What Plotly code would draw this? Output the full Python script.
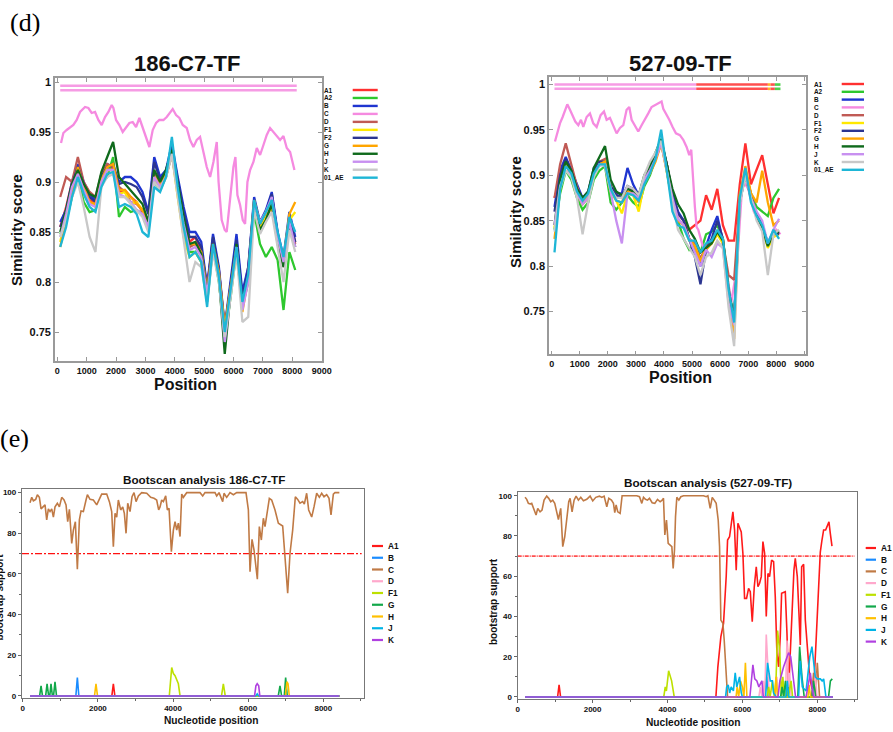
import plotly.graph_objects as go

W, H = 893, 732

# ===================== DATA =====================
sim_types = ["A1", "A2", "B", "C", "D", "F1", "F2", "G", "H", "J", "K", "01_AE"]
sim_colors = ["#ff3030", "#2ec82e", "#1f35d0", "#f58ae0", "#c05a55", "#ffe800",
              "#2b3590", "#ffa500", "#0f6a1c", "#c890f0", "#c8c8c8", "#1eb6d6"]
sim_xticks = [0, 1000, 2000, 3000, 4000, 5000, 6000, 7000, 8000, 9000]
sim_yticks = [0.75, 0.8, 0.85, 0.9, 0.95, 1.0]
sim_yticktext = ["0.75", "0.8", "0.85", "0.9", "0.95", "1"]

pos = [100, 300, 500, 700, 900, 1100, 1300, 1500, 1700, 1900,
       2100, 2300, 2500, 2700, 2900, 3100, 3300, 3500, 3700, 3900,
       4100, 4300, 4500, 4700, 4900, 5100, 5300, 5500, 5700, 5900,
       6100, 6300, 6500, 6700, 6900, 7100, 7300, 7500, 7700, 7900, 8100]

# ---- 186-C7-TF similarity ----
tl_A1 = [0.855,0.875,0.900,0.915,0.895,0.882,0.878,0.908,0.912,0.915,
         0.890,0.892,0.885,0.880,0.870,0.858,0.905,0.895,0.912,0.930,
         0.898,0.865,0.840,0.845,0.832,0.795,0.842,0.812,0.755,0.798,
         0.838,0.785,0.815,0.878,0.858,0.865,0.875,0.842,0.820,0.860,0.838]
tl_A2 = [0.848,0.860,0.885,0.905,0.880,0.870,0.872,0.898,0.905,0.925,
         0.865,0.875,0.870,0.872,0.868,0.855,0.900,0.892,0.905,0.928,
         0.890,0.855,0.830,0.830,0.820,0.780,0.835,0.800,0.745,0.785,
         0.832,0.775,0.800,0.870,0.838,0.825,0.835,0.822,0.772,0.830,0.812]
tl_B = [0.860,0.872,0.900,0.918,0.900,0.888,0.882,0.905,0.918,0.915,
        0.900,0.905,0.905,0.900,0.890,0.870,0.925,0.905,0.912,0.938,
        0.905,0.875,0.850,0.850,0.840,0.795,0.848,0.815,0.755,0.800,
        0.848,0.790,0.815,0.885,0.860,0.872,0.890,0.850,0.825,0.870,0.845]
tl_C_x = [127,207,320,434,547,661,774,944,1058,1171,
          1285,1398,1512,1625,1739,1852,1909,2000,2113,2227,
          2340,2454,2567,2681,2794,2908,3021,3135,3248,3362,
          3475,3612,3725,3839,3929,4043,4156,4270,4406,4520,
          4633,4747,4860,4974,5087,5201,5314,5428,5490,5596,
          5700,5766,5882,5995,6063,6131,6222,6313,6392,6472,
          6563,6676,6790,6903,7017,7130,7244,7357,7471,7584,
          7698,7811,7925,8015,8072]
tl_C = [0.939,0.949,0.952,0.955,0.957,0.962,0.970,0.975,0.974,0.969,
        0.970,0.962,0.957,0.965,0.970,0.977,0.974,0.962,0.957,0.950,
        0.955,0.959,0.960,0.955,0.964,0.955,0.945,0.935,0.952,0.959,
        0.962,0.962,0.965,0.969,0.973,0.967,0.964,0.957,0.954,0.942,
        0.935,0.942,0.945,0.930,0.915,0.905,0.920,0.940,0.900,0.862,
        0.852,0.850,0.887,0.915,0.925,0.887,0.877,0.862,0.858,0.900,
        0.912,0.920,0.934,0.927,0.937,0.947,0.954,0.950,0.945,0.942,
        0.946,0.934,0.930,0.920,0.912]
tl_D = [0.885,0.905,0.900,0.925,0.900,0.890,0.885,0.908,0.918,0.915,
        0.895,0.890,0.880,0.878,0.872,0.858,0.908,0.898,0.908,0.930,
        0.892,0.860,0.835,0.838,0.828,0.792,0.838,0.808,0.752,0.792,
        0.835,0.778,0.808,0.878,0.852,0.862,0.878,0.838,0.815,0.862,0.840]
tl_F1 = [0.840,0.868,0.892,0.910,0.892,0.880,0.875,0.900,0.912,0.912,
         0.888,0.890,0.878,0.880,0.872,0.860,0.905,0.898,0.905,0.928,
         0.885,0.845,0.825,0.830,0.820,0.785,0.832,0.805,0.750,0.790,
         0.830,0.775,0.805,0.875,0.855,0.865,0.875,0.845,0.822,0.862,0.870]
tl_F2 = [0.855,0.870,0.898,0.915,0.898,0.885,0.880,0.905,0.915,0.918,
         0.898,0.900,0.898,0.895,0.885,0.868,0.920,0.902,0.910,0.935,
         0.902,0.870,0.845,0.845,0.835,0.792,0.845,0.812,0.752,0.798,
         0.842,0.785,0.812,0.882,0.858,0.870,0.888,0.848,0.822,0.866,0.840]
tl_G = [0.835,0.862,0.890,0.915,0.895,0.880,0.878,0.902,0.915,0.918,
        0.892,0.892,0.885,0.878,0.872,0.858,0.905,0.898,0.910,0.928,
        0.892,0.860,0.838,0.838,0.830,0.792,0.838,0.810,0.755,0.795,
        0.835,0.770,0.805,0.882,0.858,0.870,0.880,0.845,0.822,0.868,0.880]
tl_H = [0.850,0.872,0.898,0.912,0.898,0.888,0.885,0.910,0.925,0.940,
        0.905,0.898,0.892,0.885,0.878,0.860,0.912,0.900,0.912,0.932,
        0.898,0.865,0.838,0.840,0.828,0.788,0.838,0.805,0.728,0.790,
        0.838,0.778,0.802,0.878,0.852,0.862,0.878,0.840,0.815,0.858,0.835]
tl_J = [0.845,0.868,0.895,0.908,0.892,0.878,0.875,0.900,0.912,0.912,
        0.888,0.885,0.880,0.872,0.868,0.855,0.905,0.895,0.905,0.928,
        0.890,0.858,0.832,0.835,0.825,0.788,0.835,0.805,0.740,0.788,
        0.835,0.772,0.800,0.878,0.860,0.870,0.885,0.845,0.820,0.860,0.835]
tl_K = [0.845,0.862,0.885,0.900,0.875,0.845,0.830,0.895,0.905,0.908,
        0.885,0.885,0.878,0.872,0.865,0.850,0.900,0.892,0.905,0.928,
        0.885,0.845,0.800,0.820,0.815,0.780,0.830,0.800,0.745,0.785,
        0.830,0.760,0.765,0.872,0.848,0.860,0.870,0.835,0.800,0.852,0.830]
tl_AE = [0.835,0.855,0.885,0.905,0.888,0.875,0.870,0.895,0.908,0.910,
         0.875,0.878,0.875,0.868,0.850,0.845,0.895,0.890,0.905,0.945,
         0.895,0.855,0.825,0.830,0.820,0.775,0.838,0.805,0.750,0.790,
         0.835,0.780,0.808,0.882,0.858,0.870,0.882,0.850,0.825,0.865,0.850]
tl_bar_start = [100]
tl_bar_end = [8150]
tl_bar_type = ["C"]
tl_bar_rows = [0.9963, 0.9918]

# ---- 527-09-TF similarity ----
tr_A1 = [0.875,0.895,0.918,0.905,0.885,0.872,0.878,0.902,0.912,0.912,
         0.885,0.878,0.875,0.885,0.882,0.876,0.893,0.902,0.918,0.938,
         0.912,0.880,0.858,0.850,0.840,0.845,0.850,0.878,0.862,0.885,
         0.845,0.828,0.828,0.890,0.935,0.890,0.905,0.922,0.890,0.858,0.875]
tr_A2 = [0.840,0.880,0.905,0.895,0.875,0.862,0.870,0.895,0.905,0.910,
         0.870,0.862,0.870,0.878,0.870,0.865,0.888,0.900,0.918,0.938,
         0.905,0.868,0.850,0.830,0.818,0.825,0.815,0.835,0.838,0.845,
         0.830,0.778,0.740,0.878,0.900,0.880,0.865,0.860,0.855,0.875,0.885]
tr_B = [0.865,0.905,0.920,0.905,0.888,0.875,0.882,0.908,0.915,0.912,
        0.888,0.880,0.880,0.908,0.890,0.878,0.895,0.905,0.918,0.935,
        0.912,0.880,0.860,0.850,0.830,0.820,0.800,0.822,0.840,0.855,
        0.828,0.770,0.745,0.872,0.902,0.878,0.855,0.840,0.822,0.835,0.838]
tr_C_x = [117,200,295,390,473,556,651,746,841,948,
          1043,1126,1245,1363,1482,1601,1743,1862,1957,2075,
          2194,2313,2432,2551,2669,2764,2847,2966,3084,3203,
          3322,3441,3559,3678,3797,3915,3975,4070,4189,4307,
          4426,4568,4687,4806,4901,4972,5043,5102,5162,5221,
          5400,5600,5800,6000,6200,6400,6600,6800,7000,7200,
          7400,7600,7800,8000,8150]
tr_C = [0.937,0.946,0.957,0.964,0.972,0.978,0.972,0.966,0.959,0.955,
        0.961,0.953,0.964,0.968,0.957,0.953,0.966,0.970,0.961,0.963,
        0.955,0.946,0.952,0.955,0.972,0.975,0.961,0.955,0.948,0.955,
        0.961,0.968,0.975,0.977,0.979,0.981,0.973,0.968,0.961,0.953,
        0.946,0.944,0.939,0.931,0.922,0.928,0.887,0.865,0.843,0.840,
        0.820,0.825,0.830,0.840,0.800,0.760,0.800,0.895,0.885,0.860,
        0.850,0.830,0.825,0.840,0.835]
tr_D = [0.875,0.912,0.935,0.910,0.888,0.872,0.880,0.905,0.915,0.918,
        0.888,0.878,0.875,0.885,0.885,0.878,0.895,0.905,0.918,0.935,
        0.908,0.875,0.852,0.845,0.830,0.825,0.808,0.822,0.828,0.838,
        0.826,0.790,0.785,0.872,0.900,0.875,0.855,0.845,0.825,0.838,0.838]
tr_F1 = [0.842,0.890,0.910,0.902,0.882,0.870,0.878,0.902,0.915,0.912,
         0.882,0.872,0.858,0.880,0.878,0.860,0.892,0.905,0.918,0.935,
         0.905,0.872,0.850,0.845,0.828,0.822,0.805,0.820,0.825,0.835,
         0.825,0.770,0.735,0.875,0.905,0.880,0.855,0.842,0.820,0.832,0.835]
tr_F2 = [0.860,0.900,0.918,0.905,0.885,0.875,0.880,0.905,0.915,0.915,
         0.888,0.878,0.876,0.888,0.885,0.878,0.895,0.905,0.920,0.938,
         0.912,0.880,0.858,0.850,0.830,0.810,0.780,0.818,0.830,0.850,
         0.830,0.770,0.732,0.875,0.905,0.878,0.858,0.845,0.825,0.838,0.835]
tr_G = [0.830,0.885,0.912,0.900,0.880,0.868,0.875,0.900,0.912,0.915,
        0.885,0.872,0.870,0.882,0.880,0.870,0.892,0.902,0.915,0.935,
        0.905,0.872,0.850,0.845,0.830,0.822,0.805,0.818,0.825,0.838,
        0.830,0.770,0.720,0.878,0.910,0.880,0.870,0.905,0.870,0.845,0.850]
tr_H = [0.845,0.895,0.915,0.905,0.885,0.875,0.882,0.908,0.920,0.932,
        0.895,0.882,0.878,0.885,0.882,0.878,0.900,0.910,0.925,0.940,
        0.912,0.885,0.868,0.858,0.840,0.830,0.815,0.820,0.825,0.838,
        0.828,0.775,0.740,0.870,0.900,0.875,0.855,0.842,0.822,0.835,0.838]
tr_J = [0.845,0.888,0.905,0.900,0.880,0.868,0.875,0.900,0.912,0.910,
        0.882,0.850,0.825,0.880,0.880,0.875,0.895,0.905,0.918,0.935,
        0.905,0.875,0.852,0.845,0.830,0.815,0.800,0.818,0.810,0.825,
        0.820,0.760,0.735,0.870,0.900,0.875,0.860,0.850,0.825,0.840,0.852]
tr_K = [0.838,0.885,0.905,0.898,0.875,0.835,0.870,0.898,0.910,0.912,
        0.885,0.875,0.875,0.888,0.885,0.878,0.900,0.915,0.925,0.938,
        0.905,0.870,0.840,0.830,0.820,0.810,0.790,0.810,0.815,0.828,
        0.820,0.755,0.712,0.868,0.900,0.875,0.850,0.838,0.790,0.835,0.840]
tr_AE = [0.815,0.885,0.910,0.902,0.882,0.872,0.880,0.902,0.912,0.912,
         0.885,0.872,0.870,0.880,0.878,0.872,0.890,0.902,0.918,0.950,
         0.905,0.860,0.845,0.842,0.828,0.828,0.815,0.825,0.828,0.840,
         0.830,0.775,0.738,0.875,0.908,0.870,0.855,0.845,0.825,0.840,0.830]
tr_bar_start = [100, 5150, 7700, 7800, 7950]
tr_bar_end = [5150, 7700, 7800, 7950, 8150]
tr_bar_type = ["C", "A1", "G", "A1", "A2"]
tr_bar_rows = [0.9997, 0.9950]

# ---- bootscan ----
boot_types = ["A1", "B", "C", "D", "F1", "G", "H", "J", "K"]
boot_colors = ["#ff1a1a", "#1a8cff", "#c07a45", "#ffa8cc", "#bde000",
               "#12a84a", "#ffc000", "#00b4e6", "#b040e0"]
boot_xticks = [0, 2000, 4000, 6000, 8000]
boot_yticks = [0, 20, 40, 60, 80, 100]
boot_threshold = 70

bl_A1_x = [195, 2372, 2412, 2452, 8426]
bl_A1 = [0, 0, 6, 0, 0]
bl_B_x = [195, 1414, 1454, 1494, 8426]
bl_B = [0, 0, 9, 0, 0]
bl_C_x = [195,240,284,346,390,443,488,532,594,638,
          683,727,772,816,860,922,976,1038,1100,1153,
          1197,1242,1304,1348,1401,1454,1508,1552,1614,1685,
          1721,1792,1880,1969,2040,2102,2235,2306,2368,2412,
          2457,2501,2545,2607,2661,2705,2750,2794,2856,2909,
          2962,3016,3078,3166,3300,3406,3494,3565,3618,3654,
          3698,3743,3805,3849,3894,3956,4009,4054,4098,4142,
          4187,4231,4275,4364,4719,4790,4851,5117,5162,5224,
          5322,5357,5428,5517,5606,5694,5942,6005,6049,6102,
          6155,6244,6297,6350,6404,6448,6563,6625,6714,6803,
          6918,6980,7051,7113,7184,7255,7317,7379,7450,7494,
          7556,7610,7690,7752,7823,7894,7956,8018,8089,8151,
          8204,8266,8310,8426]
bl_C = [95,97.7,96,96.7,99,97.7,92,93,94,86.6,
        92,90.7,92,88,93,94.8,93,97.7,96.4,94,
        85.7,91.8,75,81.6,85.7,62.3,86.6,91,90.7,96.4,
        99,96.7,96.4,94,97.2,99.3,99.3,95.6,90.7,73.4,
        89.8,88,96.4,91.5,93,89.8,80,94.8,90.7,98,
        100,95.6,98.4,100,99.7,97.7,97.2,96.4,91.5,93,
        96.4,95.6,98.4,91.5,92.3,71,81.6,85.7,81.6,85,
        78.4,99.3,97.7,100,100,98.4,100,100,98.4,100,
        95.6,99.7,97.7,100,99,100,100,91.5,61.1,77,
        71.8,57.4,83.3,76.7,87.4,83.3,97.2,96.4,91.5,85,
        83.6,68.5,50.5,70.2,81.6,98,96.7,94.8,95.6,94.4,
        99.7,91.5,88,93,99.7,97.7,99.7,98,99,97.2,
        89,99.3,100,100]
bl_D_x = [195, 8426]
bl_D = [0, 0]
bl_F1_x = [195, 3900, 3965, 4010, 4054, 4142, 4187, 5290, 5339, 5390, 8426]
bl_F1 = [0, 0, 14, 11, 10, 6, 0, 0, 6, 0, 0]
bl_G_x = [195, 450, 488, 526, 610, 648, 690, 720, 753, 790, 820, 859, 900,
          6800, 6847, 6890, 6960, 6997, 7040, 8426]
bl_G = [0, 0, 5, 0, 0, 6, 0, 0, 6, 0, 0, 7, 0, 0, 5, 0, 0, 9, 0, 0]
bl_H_x = [195, 1910, 1950, 1990, 6990, 7030, 7060, 7095, 8426]
bl_H = [0, 0, 6, 0, 0, 7, 6, 0, 0]
bl_J_x = [195, 6200, 6240, 6280, 8426]
bl_J = [0, 0, 1, 0, 0]
bl_K_x = [195, 6170, 6205, 6240, 6280, 6310, 8426]
bl_K = [0, 0, 5, 6, 5, 0, 0]

br_A1_x = [196,1065,1105,1145,5292,5345,5425,5496,5568,5604,
           5657,5701,5746,5791,5835,5880,5924,5969,6013,6058,
           6111,6165,6210,6263,6317,6370,6415,6459,6504,6548,
           6593,6637,6682,6726,6780,6833,6878,6922,6967,7011,
           7047,7100,7145,7190,7234,7278,7332,7376,7412,7466,
           7510,7546,7582,7635,7680,7742,7795,7858,7920,7973,
           8035,8080,8125,8169,8222,8258,8311,8347,8392]
br_A1 = [0,0,6,0,0,15,30,36.6,60,78,
         79.6,84.6,92,83,63,86.3,83.8,82,71.4,49,
         49,54,52.3,37.4,54.8,64.7,54.8,56.5,59.8,77.2,
         71.4,40,61.4,59.8,68,67.2,49.8,21.7,15,30,
         51.5,51.8,52.3,31.6,3.5,21.7,46.5,63,68.9,59.8,
         41.6,25.8,64.7,65.9,38.2,21.7,10,4,10,30,
         58,72,78,83,83,84.6,87,81.3,75]
br_B_x = [196, 6600, 6650, 6700, 7850, 7880, 7910, 8420]
br_B = [0, 0, 10, 0, 0, 6, 0, 0]
br_C_x = [196,241,285,330,374,419,490,535,597,650,
          704,775,828,882,935,989,1042,1087,1149,1203,
          1256,1310,1363,1399,1452,1506,1559,1621,1684,1755,
          1844,1933,2004,2085,2183,2245,2307,2379,2432,2503,
          2557,2592,2628,2672,2735,2788,3180,3252,3314,3359,
          3412,3465,3519,3590,3661,3733,3804,3857,3893,3929,
          3973,4018,4071,4116,4151,4187,4214,4249,4303,4356,
          4428,4962,5033,5078,5140,5194,5247,5300,5354,5390,
          5425,5479,5514,5568,5604,7850,7900,7950,8000,8060,
          8420]
br_C = [99.2,98.2,96.2,95.9,96.2,93.7,90.4,93.7,92,92.9,
        97.8,99.8,98.7,97,97.8,96.2,92,88.2,93.7,74.7,
        79.6,89.6,97,98.7,92,97.8,99.8,97.8,99.2,97.5,
        98.2,99.8,97.4,99.2,99.8,99.2,99.8,94.5,98.7,97.8,
        96.2,91.6,95.4,92,91.2,100,100,99.5,96.2,99.2,
        98.2,97.8,98.7,96.5,96.2,98.2,97,97.8,98.7,80.5,
        87.9,76.3,75.5,74.7,63.9,73,89.6,99.2,97.8,99.5,
        100,100,99.5,100,93.7,99.2,97.8,96.2,87.9,74.7,
        38.2,36.6,28.3,11.8,0,0,12,0,17,0,
        0]
br_D_x = [196, 6440, 6480, 6520, 6560, 6600, 6637, 6680, 6720, 6880, 6920,
          6960, 7150, 7190, 7230, 7260, 7300, 7910, 7950, 7990, 8420]
br_D = [0, 0, 5, 0, 8, 0, 31, 10, 0, 0, 10, 0, 0, 28, 5, 12, 0, 0, 12, 0, 0]
br_F1_x = [196, 3900, 3940, 3970, 4030, 4110, 4180, 6660, 6700, 6740, 6800,
           6850, 6900, 6940, 7000, 7040, 7080, 7120, 7180, 7230, 7300, 7340, 8420]
br_F1 = [0, 0, 5, 3, 13, 8, 0, 0, 5, 0, 8, 0, 10, 33, 22, 0, 10, 0, 6, 0, 8, 0, 0]
br_G_x = [196, 7020, 7060, 7100, 7150, 7190, 7480, 7528, 7590, 7650, 7860,
          7900, 7960, 8300, 8350, 8400]
br_G = [0, 0, 5, 0, 8, 0, 0, 25, 10, 0, 0, 8, 0, 0, 8, 9]
br_H_x = [196, 5830, 5860, 5900, 5950, 6000, 6040, 6080, 6120, 6870, 6900,
          6940, 7750, 7780, 7820, 8420]
br_H = [0, 0, 5, 0, 8, 5, 0, 17, 0, 0, 10, 0, 0, 6, 0, 0]
br_J_x = [196, 5550, 5580, 5620, 5660, 5700, 5760, 5808, 5850, 5924, 5970, 6000,
          6620, 6672, 6744, 6800, 6833, 6900, 7160, 7200, 7240, 7500, 7546, 7600,
          7700, 7800, 7857, 7900, 7946, 8000, 8080, 8130, 8170, 8230, 8420]
br_J = [0, 0, 5, 6, 2, 5, 3, 12, 5, 10, 2, 0,
        0, 17, 8, 8, 2, 0, 0, 8, 0, 0, 18, 5,
        3, 20, 25, 16, 10, 9, 9, 8, 9, 0, 0]
br_K_x = [196, 6200, 6280, 6330, 6387, 6440, 6521, 6560, 6950, 7000, 7100,
          7234, 7290, 7323, 7380, 7420, 7700, 7813, 7860, 7900, 8420]
br_K = [0, 0, 16, 9, 8, 5, 8, 0, 0, 8, 15, 22, 20, 15, 5, 0, 0, 12, 5, 0, 0]

# ===================== FIGURE =====================
fig = go.Figure()

def dx(a, b):
    return [a / W, b / W]

def dy(top, bottom):
    return [1 - bottom / H, 1 - top / H]

def px(p):
    return p / W

def py(p):
    return 1 - p / H

BOLD = dict(family="Liberation Sans", weight="bold", color="#111")

sim_tl = [tl_A1, tl_A2, tl_B, tl_C, tl_D, tl_F1, tl_F2, tl_G, tl_H, tl_J, tl_K, tl_AE]
sim_tr = [tr_A1, tr_A2, tr_B, tr_C, tr_D, tr_F1, tr_F2, tr_G, tr_H, tr_J, tr_K, tr_AE]

for ax, series, cx, bstart, bend, btype, brows in [
        ("", sim_tl, tl_C_x, tl_bar_start, tl_bar_end, tl_bar_type, tl_bar_rows),
        ("2", sim_tr, tr_C_x, tr_bar_start, tr_bar_end, tr_bar_type, tr_bar_rows)]:
    for name, col, vals in zip(sim_types, sim_colors, series):
        xs = cx if name == "C" else pos
        fig.add_trace(go.Scatter(x=xs, y=vals, mode="lines", name=name,
                                 line=dict(color=col, width=2.3),
                                 xaxis="x" + ax, yaxis="y" + ax, showlegend=False))
    for row in brows:
        for s, e, t in zip(bstart, bend, btype):
            col = sim_colors[sim_types.index(t)]
            fig.add_trace(go.Scatter(x=[s, e], y=[row, row], mode="lines",
                                     line=dict(color=col, width=2.6), opacity=0.85,
                                     xaxis="x" + ax, yaxis="y" + ax, showlegend=False))

boot_left = [(bl_A1_x, bl_A1), (bl_B_x, bl_B), (bl_C_x, bl_C), (bl_D_x, bl_D),
             (bl_F1_x, bl_F1), (bl_G_x, bl_G), (bl_H_x, bl_H), (bl_J_x, bl_J), (bl_K_x, bl_K)]
boot_right = [(br_A1_x, br_A1), (br_B_x, br_B), (br_C_x, br_C), (br_D_x, br_D),
              (br_F1_x, br_F1), (br_G_x, br_G), (br_H_x, br_H), (br_J_x, br_J), (br_K_x, br_K)]

# threshold lines
fig.add_trace(go.Scatter(x=[-19, 9020], y=[boot_threshold] * 2, mode="lines",
                         line=dict(color="#ff1010", width=1.2, dash="7px,2px,2px,2px"),
                         xaxis="x3", yaxis="y3", showlegend=False))
fig.add_trace(go.Scatter(x=[0, 8990], y=[boot_threshold] * 2, mode="lines",
                         line=dict(color="#ff5050", width=1.6, dash="4px,1px,1px,1px"),
                         xaxis="x4", yaxis="y4", showlegend=False))

for ax, data in [("3", boot_left), ("4", boot_right)]:
    for name, col, (xs, ys) in zip(boot_types, boot_colors, data):
        fig.add_trace(go.Scatter(x=xs, y=ys, mode="lines", name=name,
                                 line=dict(color=col, width=1.6),
                                 xaxis="x" + ax, yaxis="y" + ax, showlegend=False))

# ---- axes ----
def sim_axes(xdom, ydom, xr, yr, anchor_x, anchor_y):
    xa = dict(domain=xdom, range=xr, tickmode="array", tickvals=sim_xticks,
              ticktext=[str(v) for v in sim_xticks], ticks="inside", ticklen=4,
              tickcolor="#999", showline=True, linecolor="#9a9a9a", linewidth=1.6,
              mirror="ticks", showgrid=False, zeroline=False, anchor=anchor_y,
              automargin=False, tickfont=dict(BOLD, size=9))
    ya = dict(domain=ydom, range=yr, tickmode="array", tickvals=sim_yticks,
              ticktext=sim_yticktext, ticks="inside", ticklen=4,
              tickcolor="#999", showline=True, linecolor="#9a9a9a", linewidth=1.6,
              mirror="ticks", showgrid=False, zeroline=False, anchor=anchor_x,
              automargin=False, tickfont=dict(BOLD, size=11))
    return xa, ya

def boot_axes(xdom, ydom, xr, yr, anchor_x, anchor_y):
    xa = dict(domain=xdom, range=xr, tickmode="array", tickvals=boot_xticks,
              ticktext=[str(v) for v in boot_xticks], ticks="outside", ticklen=3,
              tickcolor="#666", showline=True, linecolor="#777", linewidth=1.3,
              mirror=True, showgrid=False, zeroline=False, anchor=anchor_y,
              automargin=False,
              minor=dict(tickmode="linear", tick0=0, dtick=1000, ticks="outside",
                         ticklen=2, tickcolor="#666"),
              tickfont=dict(BOLD, size=8))
    ya = dict(domain=ydom, range=yr, tickmode="array", tickvals=boot_yticks,
              ticktext=[str(v) for v in boot_yticks], ticks="outside", ticklen=3,
              tickcolor="#666", showline=True, linecolor="#777", linewidth=1.3,
              mirror=True, showgrid=False, zeroline=False, anchor=anchor_x,
              automargin=False,
              minor=dict(tickmode="linear", tick0=0, dtick=10, ticks="outside",
                         ticklen=2, tickcolor="#666"),
              tickfont=dict(BOLD, size=8))
    return xa, ya

x1, y1 = sim_axes(dx(55, 321.7), dy(78, 361), [-78, 9000], [0.721, 1.004], "x", "y")
x2, y2 = sim_axes(dx(549, 806), dy(77, 354.3), [-96, 9060], [0.703, 1.008], "x2", "y2")
x3, y3 = boot_axes(dx(22, 364), dy(489, 697.6), [-19, 9082], [-0.8, 101.8], "x3", "y3")
x4, y4 = boot_axes(dx(517.7, 857.3), dy(491.7, 698.6), [0, 9068], [-0.8, 102], "x4", "y4")

fig.update_layout(xaxis=x1, yaxis=y1, xaxis2=x2, yaxis2=y2,
                  xaxis3=x3, yaxis3=y3, xaxis4=x4, yaxis4=y4)

# ---- texts ----
ann = []
shapes = []

def text(t, x, y, size, angle=0, xanchor="center", family="Liberation Sans",
         weight="bold", color="#111"):
    ann.append(dict(text=t, x=px(x), y=py(y), xref="paper", yref="paper",
                    xanchor=xanchor, yanchor="middle", showarrow=False, textangle=angle,
                    borderpad=0,
                    font=dict(family=family, size=size, weight=weight, color=color)))

text("(d)", 25, 23, 26, family="Liberation Serif", weight="normal", color="#000")
text("(e)", 14, 438, 26, family="Liberation Serif", weight="normal", color="#000")

text("186-C7-TF", 187, 63, 22)
text("527-09-TF", 680, 63, 22)
text("Similarity score", 16, 230, 15, angle=-90)
text("Similarity score", 515, 212, 15, angle=-90)
text("Position", 185, 384, 16)
text("Position", 680, 377.5, 16)

text("Bootscan analysis 186-C7-TF", 204, 479, 11.7)
text("Bootscan analysis (527-09-TF)", 708, 482.5, 11.7)
text("Nucleotide position", 211, 720, 10.2)
text("Nucleotide position", 693, 722, 10.2)
text("bootstrap support", -1.5, 597, 10, angle=-90)
text("bootstrap support", 493, 602, 10, angle=-90)

# similarity legends (label left, line right)
for (lx, l0, l1, y0, step) in [(323.3, 352.7, 377.7, 90, 7.97), (813.3, 841.7, 864, 84, 7.8)]:
    for i, (name, col) in enumerate(zip(sim_types, sim_colors)):
        yy = y0 + i * step
        text(name, lx, yy, 6.4, xanchor="left")
        shapes.append(dict(type="line", xref="paper", yref="paper",
                           x0=px(l0), x1=px(l1), y0=py(yy), y1=py(yy),
                           line=dict(color=col, width=2.4)))

# bootscan legends (line left, label right)
for (l0, l1, tx, y0, step) in [(372, 383, 387, 546, 11.75), (865.7, 876, 880, 548, 11.7)]:
    for i, (name, col) in enumerate(zip(boot_types, boot_colors)):
        yy = y0 + i * step
        shapes.append(dict(type="line", xref="paper", yref="paper",
                           x0=px(l0), x1=px(l1), y0=py(yy), y1=py(yy),
                           line=dict(color=col, width=2.2)))
        text(name, tx, yy, 8.3, xanchor="left")

fig.update_layout(width=W, height=H, autosize=False,
                  margin=dict(l=0, r=0, t=0, b=0, pad=0),
                  paper_bgcolor="white", plot_bgcolor="white",
                  annotations=ann, shapes=shapes, showlegend=False)

fig.write_html("out.html", config={"displayModeBar": False},
               post_script="document.body.style.margin='0px';document.body.style.overflow='hidden';")
